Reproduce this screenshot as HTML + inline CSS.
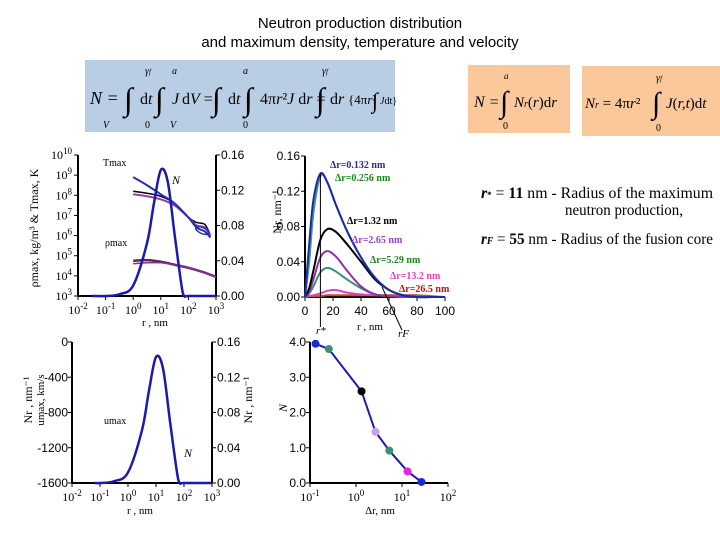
<!DOCTYPE html>
<html><head><meta charset="utf-8"><style>
body{margin:0;background:#fff;width:720px;height:540px;overflow:hidden}
svg{font-family:"Liberation Serif",serif}
</style></head><body>
<svg id="s" width="720" height="540" viewBox="0 0 720 540" xmlns="http://www.w3.org/2000/svg">
<text x="360" y="28" text-anchor="middle" font-family="Liberation Sans,sans-serif" font-size="15">Neutron production distribution</text>
<text x="360" y="47" text-anchor="middle" font-family="Liberation Sans,sans-serif" font-size="15">and maximum density, temperature and velocity</text>
<g>
<rect x="85" y="60" width="310" height="72" fill="#b9cde5"/>
<text x="90" y="104" font-size="18" font-style="italic">N =</text>
<text x="124" y="110" font-size="32">∫</text><text x="140" y="104" font-size="16">d<tspan font-style="italic">t</tspan></text>
<text x="155" y="110" font-size="32">∫</text><text x="172" y="104" font-size="16" font-style="italic">J</text><text x="182" y="104" font-size="16">d<tspan font-style="italic">V</tspan> =</text>
<text x="212" y="110" font-size="32">∫</text><text x="228" y="104" font-size="16">d<tspan font-style="italic">t</tspan></text>
<text x="244" y="110" font-size="32">∫</text><text x="260" y="104" font-size="16">4π<tspan font-style="italic">r</tspan>²<tspan font-style="italic">J</tspan> d<tspan font-style="italic">r</tspan> =</text>
<text x="316" y="110" font-size="32">∫</text><text x="330" y="104" font-size="16">d<tspan font-style="italic">r</tspan></text>
<text x="348" y="104" font-size="13">{4π<tspan font-style="italic">r</tspan>²</text>
<text x="372" y="108" font-size="22">∫</text>
<text x="380" y="104" font-size="10"><tspan font-style="italic">J</tspan>dt}</text>
<text x="145" y="74" font-size="10" font-style="italic">γ<tspan font-size="7">f</tspan></text><text x="172" y="74" font-size="10" font-style="italic">a</text><text x="243" y="74" font-size="10" font-style="italic">a</text><text x="322" y="74" font-size="10" font-style="italic">γ<tspan font-size="7">f</tspan></text>
<text x="103" y="128" font-size="10" font-style="italic">V</text><text x="145" y="128" font-size="10">0</text><text x="170" y="128" font-size="10" font-style="italic">V</text><text x="243" y="128" font-size="10">0</text>
</g>
<g>
<rect x="468" y="65" width="102" height="68" fill="#fbc89b"/>
<text x="474" y="107" font-size="16" font-style="italic">N =</text>
<text x="500" y="112" font-size="30">∫</text>
<text x="514" y="107" font-size="15"><tspan font-style="italic">N<tspan font-size="10">r</tspan></tspan>(<tspan font-style="italic">r</tspan>)d<tspan font-style="italic">r</tspan></text>
<text x="504" y="79" font-size="9" font-style="italic">a</text><text x="503" y="129" font-size="10">0</text>
</g>
<g>
<rect x="582" y="66" width="138" height="70" fill="#fbc89b"/>
<text x="585" y="108" font-size="15" font-style="italic">N<tspan font-size="10">r</tspan> <tspan font-style="normal">= 4π</tspan>r<tspan font-style="normal">²</tspan></text>
<text x="652" y="113" font-size="30">∫</text>
<text x="666" y="108" font-size="15"><tspan font-style="italic">J</tspan>(<tspan font-style="italic">r,t</tspan>)d<tspan font-style="italic">t</tspan></text>
<text x="656" y="81" font-size="10" font-style="italic">γ<tspan font-size="7">f</tspan></text><text x="656" y="131" font-size="10">0</text>
</g>
<text x="481" y="198" font-size="16" textLength="232" lengthAdjust="spacingAndGlyphs"><tspan font-style="italic" font-weight="bold">r</tspan><tspan font-size="9" font-weight="bold">*</tspan> = <tspan font-weight="bold">11</tspan> nm - Radius of the maximum</text>
<text x="565" y="215" font-size="16" textLength="118" lengthAdjust="spacingAndGlyphs">neutron production,</text>
<text x="481" y="244" font-size="16" textLength="232" lengthAdjust="spacingAndGlyphs"><tspan font-style="italic" font-weight="bold">r<tspan font-size="10">F</tspan></tspan> = <tspan font-weight="bold">55</tspan> nm - Radius of the fusion core</text>
<g id="g1"></g>
<g id="g2"></g>
<g id="g3"></g>
<g id="g4"></g>
</svg>
<script>
// ---- Chart 1 data (log10 r, values)
const c1NLogR=[-1.5,-1,-0.5,0,0.5,0.75,1,1.25,1.5,1.75,1.85,2,3];
const c1NVal=[0,0,0.002,0.012,0.06,0.105,0.143,0.13,0.07,0.012,0,0,0];
const c1TLogR=[0,0.5,1,1.5,2,2.3,2.6,2.8];
const c1TBlue=[8.9,8.5,8.05,7.6,6.9,6.4,6.2,5.9];
const c1TBlack=[8.2,8.1,7.95,7.6,6.9,6.65,6.55,6.0];
const c1TPurple=[8.05,7.95,7.8,7.5,6.9,6.5,6.4,6.0];
const c1RhoLogR=[0,0.5,1,1.5,2,2.5,3];
const c1Rho=[4.75,4.78,4.7,4.55,4.4,4.2,3.95];
const c1RhoP=[4.6,4.65,4.65,4.55,4.4,4.2,3.95];
const c1XTicks=["10-2","10-1","100","101","102","103"];
const c1YTicks=["103","104","105","106","107","108","109","1010"];
const c1RTicks=["0.00","0.04","0.08","0.12","0.16"];
// ---- Chart 2 data
const c2R=[0,3,6,11,16,22,30,40,50,60,70,80,90,100];
const c2Labels=["Δr=0.132 nm","Δr=0.256 nm","Δr=1.32 nm","Δr=2.65 nm","Δr=5.29 nm","Δr=13.2 nm","Δr=26.5 nm"];
const c2S0=[0,0.06,0.11,0.14,0.13,0.105,0.075,0.045,0.022,0.008,0.002,0,0,0];
const c2S1=[0,0.04,0.095,0.137,0.13,0.105,0.075,0.045,0.022,0.008,0.002,0,0,0];
const c2S2=[0,0.01,0.03,0.065,0.077,0.074,0.06,0.04,0.02,0.008,0.002,0,0,0];
const c2S3=[0,0.006,0.02,0.045,0.052,0.046,0.03,0.012,0.003,0.001,0,0,0,0];
const c2S4=[0,0.004,0.012,0.028,0.033,0.029,0.02,0.01,0.003,0.001,0,0,0,0];
const c2S5=[0,0.001,0.002,0.004,0.007,0.008,0.005,0.003,0.002,0.001,0.001,0,0,0];
const c2S6=[0,0.001,0.001,0.001,0.002,0.002,0.002,0.002,0.002,0.002,0.002,0.002,0.001,0];
const c2XTicks=["0","20","40","60","80","100"];
const c2YTicks=["0.00","0.04","0.08","0.12","0.16"];
// ---- Chart 3 data
const c3LogR=[-1.2,-1,-0.5,0,0.5,0.75,1,1.25,1.5,1.75,1.85,2,3];
const c3Nr=[0,0,0.002,0.012,0.06,0.105,0.143,0.13,0.07,0.012,0,0,0];
const c3LTicks=["-1600","-1200","-800","-400","0"];
const c3RTicks=["0.00","0.04","0.08","0.12","0.16"];
// ---- Chart 4 data
const c4Dr=[0.132,0.256,1.32,2.65,5.29,13.2,26.5];
const c4N=[3.95,3.8,2.6,1.45,0.92,0.33,0.03];
const c4YTicks=["0.0","1.0","2.0","3.0","4.0"];
const c4XTicks=["10-1","100","101","102"];

const NS="http://www.w3.org/2000/svg";
function mk(p,t,a,txt){const e=document.createElementNS(NS,t);for(const k in a)e.setAttribute(k,a[k]);if(txt!=null)e.textContent=txt;p.appendChild(e);return e;}
function smooth(pts){let d="M"+pts[0][0]+","+pts[0][1];for(let i=0;i<pts.length-1;i++){const p0=pts[Math.max(0,i-1)],p1=pts[i],p2=pts[i+1],p3=pts[Math.min(pts.length-1,i+2)];
d+=" C"+(p1[0]+(p2[0]-p0[0])/6)+","+(p1[1]+(p2[1]-p0[1])/6)+" "+(p2[0]-(p3[0]-p1[0])/6)+","+(p2[1]-(p3[1]-p1[1])/6)+" "+p2[0]+","+p2[1];}return d;}
function sup(p,x,y,lab,anchor,fs){const m=lab.match(/^(10)(.*)$/);const t=mk(p,"text",{x:x,y:y,"text-anchor":anchor||"middle","font-size":fs||12});
if(m){t.textContent="10";mk(t,"tspan",{dy:-5,"font-size":9},m[2]);}else t.textContent=lab;return t;}
function curve(p,pts,col,w,name){const e=mk(p,"path",{d:smooth(pts),fill:"none",stroke:col,"stroke-width":w});

return e;}

// ---------- Chart 1
(function(){const g=document.getElementById("g1");
const X0=78,X1=216,Y0=296,Y1=155;
const x=l=>X0+(l+2)/5*(X1-X0), yL=v=>Y0-(v-3)/7*(Y0-Y1), yR=v=>Y0-v/0.16*(Y0-Y1);
mk(g,"line",{x1:X0,y1:Y1,x2:X0,y2:Y0,stroke:"#000","stroke-width":2});
mk(g,"line",{x1:X1,y1:Y1,x2:X1,y2:Y0,stroke:"#000","stroke-width":2});
mk(g,"line",{x1:X0,y1:Y0,x2:X1,y2:Y0,stroke:"#000","stroke-width":2});
c1XTicks.forEach((t,i)=>{const xx=x(i-2);mk(g,"line",{x1:xx,y1:Y0,x2:xx,y2:Y0+4,stroke:"#000"});const e=sup(g,xx,Y0+18,t);});
c1YTicks.forEach((t,i)=>{const yy=yL(i+3);mk(g,"line",{x1:X0-4,y1:yy,x2:X0,y2:yy,stroke:"#000"});const e=sup(g,X0-6,yy+4,t,"end");});
c1RTicks.forEach((t,i)=>{const yy=yR(i*0.04);mk(g,"line",{x1:X1,y1:yy,x2:X1+4,y2:yy,stroke:"#000"});const e=mk(g,"text",{x:X1+5,y:yy+4,"font-size":12,"font-family":"Liberation Sans,sans-serif"},t);});
curve(g,c1RhoLogR.map((l,i)=>[x(l),yL(c1Rho[i])]),"#5a2d3a",2.5,"rho-max-curve");
curve(g,c1RhoLogR.map((l,i)=>[x(l),yL(c1RhoP[i])]),"#8a2aa0",1.5,"rho-max-curve-2");
curve(g,c1TLogR.map((l,i)=>[x(l),yL(c1TBlack[i])]),"#000",1.5,"t-max-black");
curve(g,c1TLogR.map((l,i)=>[x(l),yL(c1TPurple[i])]),"#9a3cb0",2,"t-max-purple");
curve(g,c1TLogR.map((l,i)=>[x(l),yL(c1TBlue[i])]),"#2030b0",2,"t-max-blue");
const loop=mk(g,"ellipse",{cx:x(2.5),cy:yL(6.25),rx:7,ry:3,fill:"none",stroke:"#2030b0","stroke-width":1.5,transform:"rotate(25 "+x(2.5)+" "+yL(6.25)+")"});


curve(g,c1NLogR.map((l,i)=>[x(l),yR(c1NVal[i])]),"#1a1ab0",2.5,"n-distribution-curve");
mk(g,"text",{x:103,y:166,"font-size":10},"Tmax");
mk(g,"text",{x:172,y:184,"font-size":12,"font-style":"italic"},"N");
mk(g,"text",{x:105,y:246,"font-size":10},"ρmax");
mk(g,"text",{x:155,y:326,"text-anchor":"middle","font-size":11},"r , nm");
mk(g,"text",{x:0,y:0,transform:"translate(38,228) rotate(-90)","text-anchor":"middle","font-size":12},"ρmax, kg/m³ & Tmax, K");
})();

// ---------- Chart 2
(function(){const g=document.getElementById("g2");
const X0=305,X1=445,Y0=297,Y1=156;
const x=r=>X0+r/100*(X1-X0), y=v=>Y0-v/0.16*(Y0-Y1);
mk(g,"line",{x1:X0,y1:Y1,x2:X0,y2:Y0,stroke:"#000","stroke-width":2});
mk(g,"line",{x1:X0,y1:Y0,x2:X1,y2:Y0,stroke:"#000","stroke-width":2});
c2XTicks.forEach((t,i)=>{const xx=x(i*20);mk(g,"line",{x1:xx,y1:Y0,x2:xx,y2:Y0+4,stroke:"#000"});mk(g,"text",{x:xx,y:Y0+18,"text-anchor":"middle","font-size":12,"font-family":"Liberation Sans,sans-serif"},t);});
c2YTicks.forEach((t,i)=>{const yy=y(i*0.04);mk(g,"line",{x1:X0-4,y1:yy,x2:X0,y2:yy,stroke:"#000"});mk(g,"text",{x:X0-5,y:yy+4,"text-anchor":"end","font-size":12,"font-family":"Liberation Sans,sans-serif"},t);});
const S=[c2S6,c2S5,c2S4,c2S3,c2S2,c2S1,c2S0];
const cols=["#c0502a","#e040c0","#3a9070","#9030b0","#000","#4a9a80","#1a2ab0"];
const labCols=["#2a2a9a","#1a8a1a","#000","#9a40d0","#1a8a1a","#e040c0","#c01010"];
S.forEach((s,i)=>curve(g,c2R.map((r,j)=>[x(r),y(s[j])]),cols[i],2,"nr-series-"+i));
const pos=[[330,168],[335,181],[347,224],[352,243],[370,263],[390,279],[399,292]];
c2Labels.forEach((t,i)=>{const e=mk(g,"text",{x:pos[i][0],y:pos[i][1],"font-size":10,"font-weight":"bold",fill:labCols[i]},t);});
mk(g,"line",{x1:x(11),y1:y(0.14),x2:x(11),y2:Y0+30,stroke:"#000"});
mk(g,"line",{x1:x(55),y1:Y0-10,x2:402,y2:Y0+33,stroke:"#000"});
mk(g,"text",{x:316,y:334,"font-size":11,"font-style":"italic"},"r*");
mk(g,"text",{x:370,y:330,"text-anchor":"middle","font-size":11},"r , nm");
mk(g,"text",{x:398,y:337,"font-size":11,"font-style":"italic"},"rF");
mk(g,"text",{x:0,y:0,transform:"translate(281,212) rotate(-90)","text-anchor":"middle","font-size":12},"Nr, nm⁻¹");
})();

// ---------- Chart 3
(function(){const g=document.getElementById("g3");
const X0=72,X1=212,Y0=483,Y1=342;
const x=l=>X0+(l+2)/5*(X1-X0), yL=v=>Y0-(v+1600)/1600*(Y0-Y1), yR=v=>Y0-v/0.16*(Y0-Y1);
mk(g,"line",{x1:X0,y1:Y1,x2:X0,y2:Y0,stroke:"#000","stroke-width":2});
mk(g,"line",{x1:X1,y1:Y1,x2:X1,y2:Y0,stroke:"#000","stroke-width":2});
mk(g,"line",{x1:X0,y1:Y0,x2:X1,y2:Y0,stroke:"#000","stroke-width":2});
c1XTicks.forEach((t,i)=>{const xx=x(i-2);mk(g,"line",{x1:xx,y1:Y0,x2:xx,y2:Y0+4,stroke:"#000"});sup(g,xx,Y0+18,t);});
c3LTicks.forEach((t,i)=>{const yy=yL(-1600+i*400);mk(g,"line",{x1:X0-4,y1:yy,x2:X0,y2:yy,stroke:"#000"});mk(g,"text",{x:X0-4,y:yy+4,"text-anchor":"end","font-size":12,"font-family":"Liberation Sans,sans-serif"},t);});
c3RTicks.forEach((t,i)=>{const yy=yR(i*0.04);mk(g,"line",{x1:X1,y1:yy,x2:X1+4,y2:yy,stroke:"#000"});mk(g,"text",{x:X1+5,y:yy+4,"font-size":12,"font-family":"Liberation Sans,sans-serif"},t);});
curve(g,c3LogR.map((l,i)=>[x(l),yR(c3Nr[i])]),"#1a1ab0",2.5,"nr-curve");
mk(g,"text",{x:104,y:424,"font-size":10},"umax");
mk(g,"text",{x:184,y:457,"font-size":12,"font-style":"italic"},"N");
mk(g,"text",{x:140,y:514,"text-anchor":"middle","font-size":11},"r , nm");
mk(g,"text",{x:0,y:0,transform:"translate(32,400) rotate(-90)","text-anchor":"middle","font-size":12},"Nr , nm⁻¹");
mk(g,"text",{x:0,y:0,transform:"translate(44,400) rotate(-90)","text-anchor":"middle","font-size":11},"umax, km/s");
mk(g,"text",{x:0,y:0,transform:"translate(252,400) rotate(-90)","text-anchor":"middle","font-size":12},"Nr , nm⁻¹");
})();

// ---------- Chart 4
(function(){const g=document.getElementById("g4");
const X0=310,X1=448,Y0=483,Y1=342;
const x=d=>X0+(Math.log10(d)+1)/3*(X1-X0), y=v=>Y0-v/4*(Y0-Y1);
mk(g,"line",{x1:X0,y1:Y1,x2:X0,y2:Y0,stroke:"#000","stroke-width":2});
mk(g,"line",{x1:X0,y1:Y0,x2:X1,y2:Y0,stroke:"#000","stroke-width":2});
c4XTicks.forEach((t,i)=>{const xx=X0+i/3*(X1-X0);mk(g,"line",{x1:xx,y1:Y0,x2:xx,y2:Y0+4,stroke:"#000"});sup(g,xx,Y0+18,t);});
c4YTicks.forEach((t,i)=>{const yy=y(i);mk(g,"line",{x1:X0-4,y1:yy,x2:X0,y2:yy,stroke:"#000"});mk(g,"text",{x:X0-4,y:yy+4,"text-anchor":"end","font-size":12,"font-family":"Liberation Sans,sans-serif"},t);});
const p=mk(g,"polyline",{points:c4Dr.map((d,i)=>x(d)+","+y(c4N[i])).join(" "),fill:"none",stroke:"#1a1ab0","stroke-width":2});


const pc=["#1a2ad0","#3a9070","#000","#c8a0f0","#3a9070","#f020e0","#1a2ad0"];
c4Dr.forEach((d,i)=>{const c=mk(g,"circle",{cx:x(d),cy:y(c4N[i]),r:4,fill:pc[i]});

});
mk(g,"text",{x:380,y:514,"text-anchor":"middle","font-size":11},"Δr, nm");
mk(g,"text",{x:0,y:0,transform:"translate(287,408) rotate(-90)","text-anchor":"middle","font-size":12,"font-style":"italic"},"N");
})();
</script>
</body></html>
